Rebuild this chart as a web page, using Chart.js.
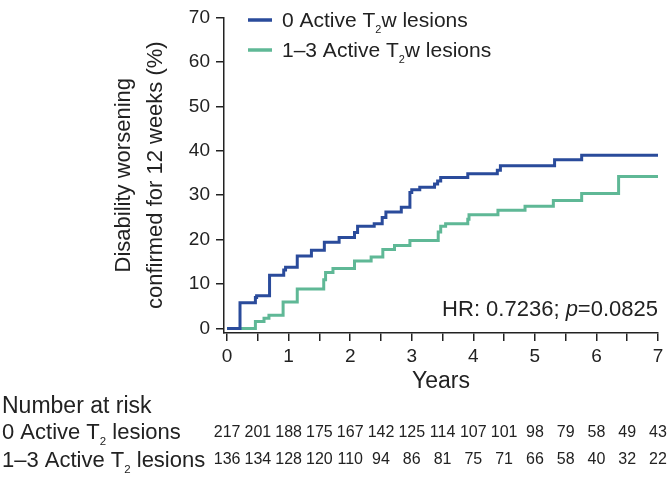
<!DOCTYPE html>
<html>
<head>
<meta charset="utf-8">
<script src="https://cdn.jsdelivr.net/npm/chart.js@4.4.1/dist/chart.umd.min.js"></script>
<style>
  html, body { margin: 0; padding: 0; background: #fff; }
  #wrap { width: 668px; height: 478px; }
</style>
</head>
<body>
<div id="wrap"><canvas id="km" width="668" height="478"></canvas></div>
<script>
const FONT = "'Liberation Sans', Arial, Helvetica, sans-serif";
const INK = '#222';
const BLUE = '#2a4b9b';
const GREEN = '#5fb896';

// Kaplan-Meier steps (years, cumulative % with disability worsening)
const yearsA = [0, 0.21, 0.46, 0.48, 0.69, 0.92, 0.95, 1.14, 1.37, 1.58, 1.82, 2.07, 2.12, 2.39, 2.52, 2.58, 2.83, 2.97, 3.0, 3.13, 3.37, 3.42, 3.47, 3.91, 4.39, 4.44, 5.32, 5.76, 7.0];
const pctA   = [0, 5.8, 7.0, 7.4, 12.0, 13.2, 13.8, 16.3, 17.6, 19.4, 20.5, 21.6, 23.0, 23.6, 25.0, 26.2, 27.3, 30.6, 31.2, 31.8, 32.5, 33.2, 34.0, 34.8, 35.6, 36.6, 38.0, 39.0, 39.0];
const yearsB = [0, 0.46, 0.6, 0.68, 0.91, 1.14, 1.57, 1.6, 1.72, 2.07, 2.34, 2.53, 2.72, 2.97, 3.43, 3.47, 3.55, 3.91, 3.93, 4.4, 4.84, 5.3, 5.76, 6.36, 7.0];
const pctB   = [0, 1.6, 2.3, 3.0, 6.0, 8.9, 11.0, 12.6, 13.5, 15.2, 16.1, 17.8, 18.7, 19.8, 21.7, 23.0, 23.6, 24.6, 25.6, 26.6, 27.5, 28.8, 30.4, 34.2, 34.2];

const xTicks = [0, 0.5, 1, 1.5, 2, 2.5, 3, 3.5, 4, 4.5, 5, 5.5, 6, 6.5, 7];
const yTicks = [0, 10, 20, 30, 40, 50, 60, 70];

// number at risk, one per x tick
const riskA = [217, 201, 188, 175, 167, 142, 125, 114, 107, 101, 98, 79, 58, 49, 43];
const riskB = [136, 134, 128, 120, 110, 94, 86, 81, 75, 71, 66, 58, 40, 32, 22];

function toPoints(xs, ys) {
  return xs.map((x, i) => ({ x: x, y: ys[i] }));
}

// text with subscript / italic pieces
function drawRuns(ctx, runs, x, y, size, align) {
  const parts = runs.map(r => {
    const s = r.sub ? size * 0.52 : size;
    const f = (r.italic ? 'italic ' : '') + s + 'px ' + FONT;
    ctx.font = f;
    return { t: r.t, f: f, w: ctx.measureText(r.t).width, dy: r.sub ? size * 0.28 : 0 };
  });
  const total = parts.reduce((a, p) => a + p.w, 0);
  let cx = align === 'right' ? x - total : x;
  ctx.textAlign = 'left';
  ctx.textBaseline = 'alphabetic';
  parts.forEach(p => {
    ctx.font = p.f;
    ctx.fillText(p.t, cx, y + p.dy);
    cx += p.w;
  });
}

const extras = {
  id: 'extras',
  afterDraw(chart) {
    const ctx = chart.ctx;
    const xs = chart.scales.x;
    ctx.save();
    ctx.fillStyle = INK;

    // legend
    const legend = [
      { color: BLUE, y: 20, runs: [{ t: '0 Active T' }, { t: '2', sub: true }, { t: 'w lesions' }] },
      { color: GREEN, y: 50, runs: [{ t: '1\u20133 Active T' }, { t: '2', sub: true }, { t: 'w lesions' }] }
    ];
    legend.forEach(l => {
      ctx.strokeStyle = l.color;
      ctx.lineWidth = 3.5;
      ctx.beginPath();
      ctx.moveTo(248, l.y);
      ctx.lineTo(272, l.y);
      ctx.stroke();
      ctx.fillStyle = INK;
      drawRuns(ctx, l.runs, 282, l.y + 7, 21, 'left');
    });

    // hazard ratio
    drawRuns(ctx, [{ t: 'HR: 0.7236; ' }, { t: 'p', italic: true }, { t: '=0.0825' }], 658, 316, 22, 'right');

    // number at risk table
    ctx.font = '23px ' + FONT;
    ctx.textAlign = 'left';
    ctx.fillText('Number at risk', 2, 413);
    drawRuns(ctx, [{ t: '0 Active T' }, { t: '2', sub: true }, { t: ' lesions' }], 2, 439, 22, 'left');
    drawRuns(ctx, [{ t: '1\u20133 Active T' }, { t: '2', sub: true }, { t: ' lesions' }], 2, 467, 22, 'left');

    ctx.font = '16px ' + FONT;
    ctx.textAlign = 'center';
    ctx.textBaseline = 'alphabetic';
    xTicks.forEach((t, i) => {
      const px = xs.getPixelForValue(t);
      ctx.fillText(String(riskA[i]), px, 437);
      ctx.fillText(String(riskB[i]), px, 464);
    });
    ctx.restore();
  }
};

new Chart(document.getElementById('km'), {
  type: 'line',
  data: {
    datasets: [
      {
        label: '0 Active T2w lesions',
        data: toPoints(yearsA, pctA),
        borderColor: BLUE,
        borderWidth: 3,
        stepped: true,
        pointRadius: 0,
        fill: false
      },
      {
        label: '1-3 Active T2w lesions',
        data: toPoints(yearsB, pctB),
        borderColor: GREEN,
        borderWidth: 3,
        stepped: true,
        pointRadius: 0,
        fill: false
      }
    ]
  },
  options: {
    responsive: false,
    animation: false,
    layout: { padding: { left: 0, right: 10, top: 11, bottom: 83 } },
    plugins: {
      legend: { display: false },
      tooltip: { enabled: false }
    },
    scales: {
      x: {
        type: 'linear',
        min: -0.05,
        max: 7,
        afterBuildTicks: s => { s.ticks = xTicks.map(v => ({ value: v })); },
        afterFit: s => { s.height = 62; },
        ticks: {
          autoSkip: false,
          maxRotation: 0,
          padding: 4,
          color: INK,
          font: { family: FONT, size: 19 },
          callback: v => (v % 1 === 0 ? String(v) : '')
        },
        grid: { drawOnChartArea: false, drawTicks: true, tickLength: 8, color: INK, lineWidth: 1.5 },
        border: { display: true, color: INK, width: 1.5 },
        title: {
          display: true,
          text: 'Years',
          color: INK,
          font: { family: FONT, size: 23 },
          padding: { top: 0, bottom: 0 }
        }
      },
      y: {
        min: -1,
        max: 70,
        afterBuildTicks: s => { s.ticks = yTicks.map(v => ({ value: v })); },
        afterFit: s => { s.width = 224; },
        ticks: {
          padding: 6,
          color: INK,
          font: { family: FONT, size: 19 },
          callback: v => String(v)
        },
        grid: { drawOnChartArea: false, drawTicks: true, tickLength: 8, color: INK, lineWidth: 1.5 },
        border: { display: true, color: INK, width: 1.5 },
        title: {
          display: true,
          text: ['Disability worsening', 'confirmed for 12 weeks (%)'],
          color: INK,
          font: { family: FONT, size: 22, lineHeight: 1.45 },
          padding: { top: 108, bottom: 0 }
        }
      }
    }
  },
  plugins: [extras]
});
</script>
</body>
</html>
